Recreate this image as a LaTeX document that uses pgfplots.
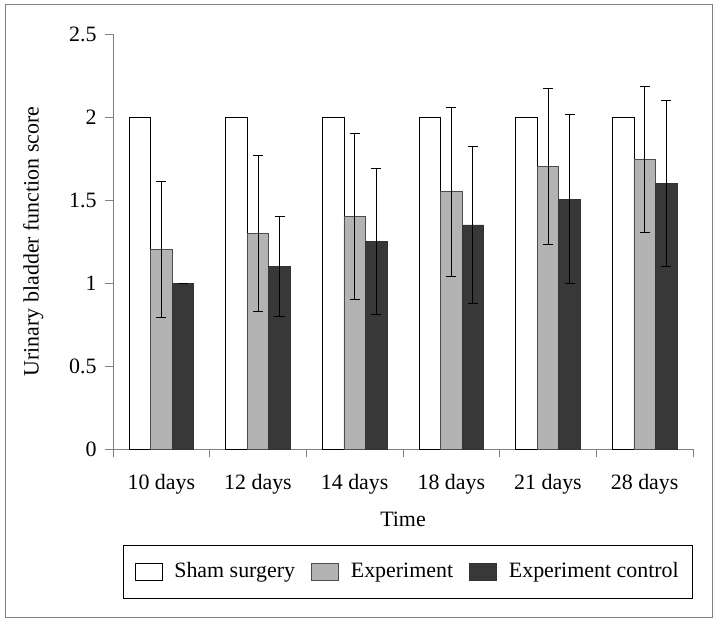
\documentclass[border=0pt]{standalone}
\usepackage{pgfplots}
\pgfplotsset{compat=1.18}
\usepackage{fontspec}
\setmainfont{Liberation Serif}
\definecolor{expgray}{HTML}{B3B3B3}
\definecolor{ctrldark}{HTML}{383838}
\definecolor{axgray}{HTML}{808080}
\begin{document}
\fontsize{22}{26}\selectfont
\begin{tikzpicture}
\begin{axis}[
    name=ax,
    scale only axis,
    width=580bp, height=415bp,
    ybar=0pt, bar width=21.5bp,
    xmin=0, xmax=6, ymin=0, ymax=2.5,
    axis x line=bottom, axis y line=left,
    axis line style={-, axgray, line width=0.8pt},
    tick align=outside,
    major tick length=8bp, minor tick length=8bp,
    xtick={0.5,1.5,...,5.5},
    xticklabels={10 days,12 days,14 days,18 days,21 days,28 days},
    minor xtick={0,1,...,6},
    major x tick style={draw=none},
    minor x tick style={axgray, line width=0.8pt},
    ytick={0,0.5,...,2.5},
    y tick style={axgray, line width=0.8pt},
    /pgf/number format/assume math mode=true,
    tick label style={font=\fontsize{22}{26}\selectfont},
    yticklabel style={xshift=-1bp},
    xticklabel style={yshift=-10bp},
    xlabel={Time}, ylabel={Urinary bladder function score},
    label style={font=\fontsize{22}{26}\selectfont},
    xlabel style={yshift=-3bp},
    ylabel style={yshift=11bp},
    error bars/y dir=both, error bars/y explicit,
    error bars/error mark options={rotate=90, black, mark size=5bp, line width=0.8pt},
    error bars/error bar style={black, line width=0.8pt},
    legend columns=3,
    legend style={at={(0.508,-0.231)}, anchor=north, draw=black, line width=0.8pt,
        font=\fontsize{22}{26}\selectfont, inner xsep=11.5bp, inner ysep=15.5bp,
        /tikz/every odd column/.append style={column sep=10bp},
        /tikz/every even column/.append style={column sep=14bp}},
    legend image code/.code={\draw[#1, line width=0.8pt] (0bp,-8bp) rectangle (27bp,9bp);},
]
\addplot[fill=white, draw=black, line width=0.8pt] coordinates {
    (0.5,2) +- (0,0)
    (1.5,2) +- (0,0)
    (2.5,2) +- (0,0)
    (3.5,2) +- (0,0)
    (4.5,2) +- (0,0)
    (5.5,2) +- (0,0)
};
\addlegendentry{Sham surgery}
\addplot[fill=expgray, draw=black!70, line width=0.8pt] coordinates {
    (0.5,1.20) +- (0,0.41)
    (1.5,1.30) +- (0,0.47)
    (2.5,1.40) +- (0,0.50)
    (3.5,1.55) +- (0,0.51)
    (4.5,1.70) +- (0,0.47)
    (5.5,1.745) +- (0,0.44)
};
\addlegendentry{Experiment}
\addplot[fill=ctrldark, draw=black!80, line width=0.8pt] coordinates {
    (0.5,1.00) +- (0,0)
    (1.5,1.10) +- (0,0.30)
    (2.5,1.25) +- (0,0.44)
    (3.5,1.35) +- (0,0.475)
    (4.5,1.505) +- (0,0.51)
    (5.5,1.60) +- (0,0.50)
};
\addlegendentry{Experiment control}
\end{axis}
\draw[axgray, line width=1pt] ([shift={(-108bp,-168bp)}]ax.south west) rectangle ([shift={(19bp,29bp)}]ax.north east);
\path ([shift={(-113bp,-174bp)}]ax.south west) rectangle ([shift={(24bp,34bp)}]ax.north east);
\end{tikzpicture}
\end{document}
